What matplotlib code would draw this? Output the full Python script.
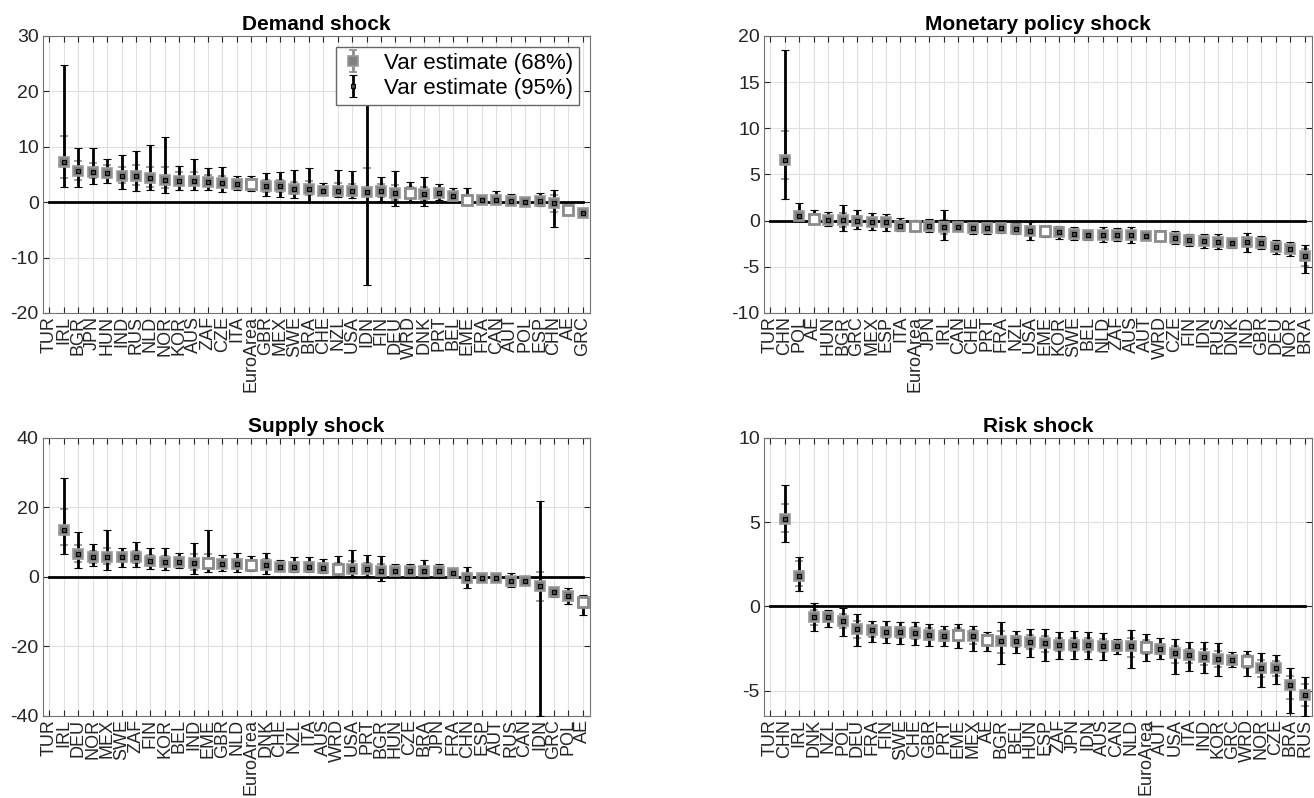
import numpy as np
import matplotlib.pyplot as plt

plt.rcParams['font.family'] = ['Liberation Sans', 'DejaVu Sans']
plt.rcParams['axes.unicode_minus'] = False

nan = np.nan
AGGREGATES = ["EuroArea", "EME", "WRD", "AE"]

# Demand shock
demand_labels = ["TUR", "IRL", "BGR", "JPN", "HUN", "IND", "RUS", "NLD", "NOR", "KOR", "AUS", "ZAF", "CZE",
                 "ITA", "EuroArea", "GBR", "MEX", "SWE", "BRA", "CHE", "NZL", "USA", "IDN", "FIN", "DEU",
                 "WRD", "DNK", "PRT", "BEL", "EME", "FRA", "CAN", "AUT", "POL", "ESP", "CHN", "AE", "GRC"]
demand_mid = [nan, 7.3, 5.6, 5.4, 5.2, 4.7, 4.7, 4.3, 4.0, 3.9, 3.9, 3.6, 3.4, 3.2, 3.2, 2.9, 2.9, 2.3, 2.3,
              2.1, 2.1, 2.0, 1.9, 2.0, 1.7, 1.7, 1.5, 1.6, 1.1, 0.4, 0.4, 0.4, 0.3, 0.1, 0.3, -0.2, -1.4, -2.0]
demand_lo95 = [nan, 2.8, 2.8, 3.3, 3.5, 2.4, 2.0, 2.2, 1.7, 2.2, 2.2, 2.2, 1.9, 2.2, 2.0, 1.2, 1.0, 0.8, 0.1,
               1.4, 0.9, 0.7, -15.0, 0.3, -0.7, 0.3, -0.7, 0.4, 0.4, -0.2, -0.2, -0.3, -0.4, -0.3, -0.6,
               -4.5, -2.3, -2.7]
demand_hi95 = [nan, 24.8, 9.7, 9.7, 7.8, 8.5, 9.3, 10.4, 11.8, 6.5, 7.8, 6.2, 6.3, 4.7, 4.8, 5.2, 5.4, 5.8,
               6.2, 3.4, 5.8, 5.7, 22.0, 4.5, 5.7, 3.7, 4.5, 3.2, 2.5, 2.6, 1.3, 2.0, 1.5, 0.6, 1.7, 2.2,
               -0.5, -1.3]
demand_lo68 = [nan, 4.3, 4.0, 4.3, 4.3, 3.4, 3.1, 2.8, 2.6, 3.1, 3.1, 2.9, 2.7, 2.7, 2.5, 1.9, 1.8, 1.5, 1.3,
               1.7, 1.3, 1.2, 0.1, 1.0, 0.4, 0.8, 0.3, 1.0, 0.7, 0.1, 0.1, 0.0, -0.1, -0.1, -0.2, -1.7,
               -1.9, -2.4]
demand_hi68 = [nan, 11.9, 7.4, 7.1, 6.7, 6.3, 6.7, 6.3, 6.4, 5.4, 5.5, 4.9, 4.7, 4.0, 4.0, 4.0, 4.0, 3.7,
               3.9, 2.9, 3.5, 3.3, 6.2, 3.3, 3.1, 2.8, 2.8, 2.5, 1.9, 1.3, 1.0, 1.2, 0.9, 0.4, 1.0, 1.3,
               -0.9, -1.6]

# Monetary policy shock
monetary_labels = ["TUR", "CHN", "POL", "AE", "HUN", "BGR", "GRC", "MEX", "ESP", "ITA", "EuroArea", "JPN",
                   "IRL", "CAN", "CHE", "PRT", "FRA", "NZL", "USA", "EME", "KOR", "SWE", "BEL", "NLD", "ZAF",
                   "AUS", "AUT", "WRD", "CZE", "FIN", "IDN", "RUS", "DNK", "IND", "GBR", "DEU", "NOR", "BRA"]
monetary_mid = [nan, 6.6, 0.47, 0.2, 0.1, 0.1, 0.0, -0.15, -0.2, -0.55, -0.55, -0.6, -0.7, -0.7, -0.85,
                -0.85, -0.85, -0.9, -1.1, -1.15, -1.25, -1.5, -1.6, -1.6, -1.6, -1.6, -1.7, -1.7, -1.9,
                -2.05, -2.2, -2.3, -2.4, -2.35, -2.4, -2.85, -3.1, -3.85]
monetary_lo95 = [nan, 2.3, -0.07, -0.4, -0.6, -1.15, -0.9, -1.0, -1.1, -1.15, -1.1, -1.2, -2.15, -1.15,
                 -1.4, -1.4, -1.3, -1.4, -2.15, -1.8, -2.0, -2.15, -2.1, -2.3, -2.2, -2.4, -2.15, -2.15,
                 -2.5, -2.7, -2.95, -3.1, -3.0, -3.4, -3.1, -3.65, -3.85, -5.65]
monetary_hi95 = [nan, 18.5, 1.9, 1.1, 0.9, 1.7, 1.1, 0.8, 0.7, 0.25, 0.1, 0.2, 1.2, -0.2, -0.25, -0.25,
                 -0.3, -0.25, -0.15, -0.6, -0.55, -0.7, -0.97, -0.7, -0.8, -0.7, -1.15, -1.2, -1.15, -1.5,
                 -1.45, -1.5, -1.9, -1.35, -1.7, -2.1, -2.35, -2.6]
monetary_lo68 = [nan, 4.5, 0.1, -0.1, -0.3, -0.7, -0.45, -0.6, -0.65, -0.85, -0.85, -0.9, -1.5, -0.95,
                 -1.1, -1.1, -1.1, -1.15, -1.6, -1.45, -1.6, -1.8, -1.85, -1.95, -1.9, -2.0, -1.9, -1.9,
                 -2.2, -2.35, -2.55, -2.7, -2.7, -2.85, -2.75, -3.25, -3.5, -4.9]
monetary_hi68 = [nan, 9.7, 1.0, 0.6, 0.5, 0.8, 0.5, 0.3, 0.25, -0.15, -0.25, -0.2, 0.1, -0.45, -0.55,
                 -0.55, -0.6, -0.6, -0.6, -0.85, -0.9, -1.1, -1.3, -1.15, -1.2, -1.15, -1.45, -1.45, -1.5,
                 -1.75, -1.8, -1.9, -2.15, -1.85, -2.05, -2.45, -2.7, -3.05]

# Supply shock
supply_labels = ["TUR", "IRL", "DEU", "NOR", "MEX", "SWE", "ZAF", "FIN", "KOR", "BEL", "IND", "EME", "GBR",
                 "NLD", "EuroArea", "DNK", "CHE", "NZL", "ITA", "AUS", "WRD", "USA", "PRT", "BGR", "HUN",
                 "CZE", "BRA", "JPN", "FRA", "CHN", "ESP", "AUT", "RUS", "CAN", "IDN", "GRC", "POL", "AE"]
supply_mid = [nan, 13.5, 6.5, 5.6, 5.6, 5.6, 5.6, 4.6, 4.2, 4.4, 3.9, 3.9, 3.6, 3.6, 3.5, 3.5, 3.0, 3.0,
              3.0, 2.7, 2.2, 2.2, 2.2, 1.8, 1.8, 1.8, 1.8, 1.7, 1.25, -0.4, -0.4, -0.4, -1.15, -1.3, -2.6,
              -4.2, -5.5, -7.3]
supply_lo95 = [nan, 6.5, 2.7, 3.2, 2.0, 3.0, 3.0, 2.2, 2.0, 2.5, 0.9, 1.5, 1.8, 1.5, 1.7, 0.8, 1.8, 1.5,
               1.5, 1.25, 0.4, 0.3, 0.4, -1.3, 0.4, 0.4, -0.2, 0.1, 0.1, -3.3, -1.3, -1.3, -3.0, -2.3,
               -40.0, -5.7, -7.8, -10.9]
supply_hi95 = [nan, 28.6, 12.8, 9.5, 13.5, 8.4, 10.2, 8.3, 8.3, 7.0, 9.7, 13.5, 6.3, 6.8, 6.0, 7.0, 4.9,
               5.7, 5.6, 5.2, 6.0, 7.8, 6.3, 6.0, 3.6, 3.7, 4.9, 3.6, 2.7, 2.8, 1.05, 0.4, 1.05, -0.4,
               21.9, -2.8, -3.3, -5.2]
supply_lo68 = [nan, 9.2, 4.4, 4.0, 3.6, 4.2, 4.0, 3.2, 3.0, 3.3, 2.0, 2.2, 2.6, 2.4, 2.5, 2.0, 2.3, 2.1,
               2.1, 1.8, 1.2, 1.2, 1.2, 0.3, 1.0, 1.0, 0.7, 0.9, 0.6, -1.8, -0.9, -0.8, -2.1, -1.8, -6.9,
               -4.9, -6.6, -9.0]
supply_hi68 = [nan, 19.6, 9.2, 7.5, 8.3, 7.0, 7.6, 6.3, 6.0, 5.6, 6.5, 6.5, 4.9, 5.1, 4.7, 5.1, 3.9, 4.3,
               4.2, 3.9, 3.9, 4.5, 4.0, 3.8, 2.7, 2.7, 3.2, 2.6, 1.9, 1.2, 0.3, 0.0, -0.1, -0.8, 1.5, -3.5,
               -4.4, -6.2]

# Risk shock
risk_labels = ["TUR", "CHN", "IRL", "DNK", "NZL", "POL", "DEU", "FRA", "FIN", "SWE", "CHE", "GBR", "PRT",
               "EME", "MEX", "AE", "BGR", "BEL", "HUN", "ESP", "ZAF", "JPN", "IDN", "AUS", "CAN", "NLD",
               "EuroArea", "AUT", "USA", "ITA", "IND", "KOR", "GRC", "WRD", "NOR", "CZE", "BRA", "RUS"]
risk_mid = [nan, 5.2, 1.83, -0.63, -0.63, -0.89, -1.34, -1.42, -1.52, -1.54, -1.57, -1.67, -1.73, -1.67,
            -1.77, -2.0, -2.07, -2.07, -2.1, -2.17, -2.26, -2.26, -2.3, -2.32, -2.36, -2.36, -2.42, -2.5,
            -2.76, -2.89, -3.0, -3.11, -3.15, -3.21, -3.64, -3.64, -4.67, -5.26]
risk_lo95 = [nan, 3.8, 0.93, -1.44, -1.24, -1.73, -2.32, -2.13, -2.17, -2.22, -2.3, -2.32, -2.32, -2.46,
             -2.66, -2.66, -3.44, -2.76, -3.0, -3.25, -3.1, -3.1, -3.1, -3.15, -2.85, -3.64, -3.25, -3.11,
             -4.0, -3.84, -3.94, -4.13, -3.58, -4.1, -4.76, -4.63, -6.3, -6.5]
risk_hi95 = [nan, 7.2, 2.95, 0.2, -0.2, -0.1, -0.43, -0.89, -0.89, -0.94, -0.94, -1.04, -1.14, -1.04,
             -1.14, -1.54, -0.93, -1.48, -1.34, -1.34, -1.54, -1.48, -1.54, -1.57, -1.93, -1.38, -1.61,
             -1.87, -1.93, -2.09, -2.13, -2.17, -2.72, -2.66, -2.76, -2.89, -3.64, -4.17]
risk_lo68 = [nan, 4.4, 1.2, -1.1, -0.95, -1.3, -1.85, -1.8, -1.85, -1.9, -1.95, -2.0, -2.05, -2.05, -2.2,
             -2.3, -2.75, -2.4, -2.55, -2.7, -2.65, -2.65, -2.7, -2.7, -2.6, -3.0, -2.85, -2.8, -3.35,
             -3.35, -3.45, -3.6, -3.35, -3.65, -4.2, -4.1, -5.5, -5.9]
risk_hi68 = [nan, 6.05, 2.7, -0.2, -0.35, -0.45, -0.85, -1.1, -1.2, -1.2, -1.2, -1.3, -1.4, -1.3, -1.4,
             -1.75, -1.45, -1.75, -1.7, -1.75, -1.9, -1.85, -1.9, -1.95, -2.15, -1.85, -2.0, -2.2, -2.35,
             -2.5, -2.55, -2.65, -2.95, -2.9, -3.15, -3.25, -4.15, -4.6]


def panel(ax, title, labels, mid, lo95, hi95, lo68, hi68, ylim, yticks, legend=False):
    x = np.arange(1, len(labels) + 1)
    mid = np.array(mid)
    err68 = [mid - np.array(lo68), np.array(hi68) - mid]
    err95 = [mid - np.array(lo95), np.array(hi95) - mid]

    eb68 = ax.errorbar(x, mid, yerr=err68, fmt='s', ms=7.5, mfc='0.5', mec='0.6', mew=1.2,
                       color='0.55', elinewidth=2, capsize=3, capthick=2, label='Var estimate (68%)')
    eb68[0].set_zorder(4)
    for a in list(eb68[1]) + list(eb68[2]):
        a.set_zorder(2)
    eb95 = ax.errorbar(x, mid, yerr=err95, fmt='s', ms=3, mfc='0.3', mec='k', mew=0.8,
                       color='k', elinewidth=2, capsize=3, capthick=2, label='Var estimate (95%)')
    eb95[0].set_zorder(5)
    for a in list(eb95[1]) + list(eb95[2]):
        a.set_zorder(3)

    agg = np.array([l in AGGREGATES for l in labels])
    ax.plot(x[agg], mid[agg], 's', ms=7.5, mfc='white', mec='0.55', mew=2, zorder=6)

    ax.plot([1, len(labels)], [0, 0], color='k', lw=2, zorder=3)

    ax.set_xlim(0.55, len(labels) + 0.5)
    ax.set_ylim(*ylim)
    ax.set_yticks(yticks)
    ax.set_xticks(x)
    ax.set_xticklabels(labels, rotation=90)
    ax.set_title(title, fontsize=15, fontweight='bold', pad=4)
    ax.grid(True, color='0.88', lw=0.8)
    ax.set_axisbelow(True)
    ax.tick_params(direction='in', top=True, right=True, length=4, labelsize=14,
                   colors='0.15', pad=3)
    ax.tick_params(axis='x', labelsize=13, pad=2)
    for s in ax.spines.values():
        s.set_color('0.45')
        s.set_linewidth(0.8)
    if legend:
        ax.legend(loc='upper right', fontsize=16, fancybox=False, edgecolor='0.4', framealpha=1,
                  handlelength=1.0, handletextpad=0.9, borderpad=0.25, labelspacing=0.2,
                  borderaxespad=0.5)


fig = plt.figure(figsize=(13.14, 7.98), dpi=100)
ax1 = fig.add_axes([0.0327, 0.6078, 0.4163, 0.3471])
ax2 = fig.add_axes([0.5814, 0.6078, 0.4170, 0.3471])
ax3 = fig.add_axes([0.0327, 0.1028, 0.4163, 0.3484])
ax4 = fig.add_axes([0.5814, 0.1028, 0.4170, 0.3484])

panel(ax1, 'Demand shock', demand_labels, demand_mid, demand_lo95, demand_hi95, demand_lo68, demand_hi68,
      (-20, 30), [-20, -10, 0, 10, 20, 30], legend=True)
panel(ax2, 'Monetary policy shock', monetary_labels, monetary_mid, monetary_lo95, monetary_hi95,
      monetary_lo68, monetary_hi68, (-10, 20), [-10, -5, 0, 5, 10, 15, 20])
panel(ax3, 'Supply shock', supply_labels, supply_mid, supply_lo95, supply_hi95, supply_lo68, supply_hi68,
      (-40, 40), [-40, -20, 0, 20, 40])
panel(ax4, 'Risk shock', risk_labels, risk_mid, risk_lo95, risk_hi95, risk_lo68, risk_hi68,
      (-6.5, 10), [-5, 0, 5, 10])

fig.savefig('out.png', dpi=100)
